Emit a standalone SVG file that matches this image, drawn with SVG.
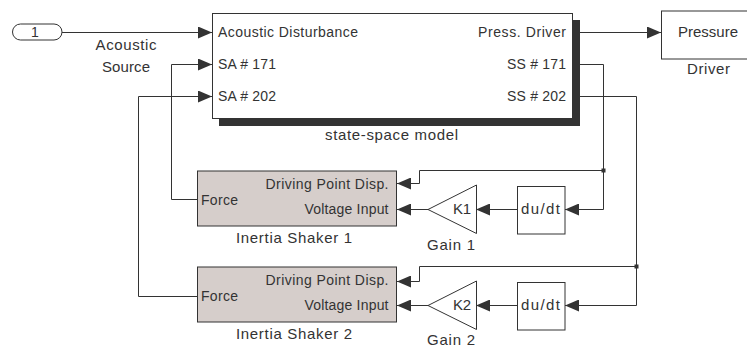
<svg xmlns="http://www.w3.org/2000/svg" width="747" height="348" viewBox="0 0 747 348">
<defs>
<style>
text{font-family:"Liberation Sans",Arial,sans-serif;font-size:14px;fill:#333;}
.lbl{font-size:15px;}
.blk{fill:#fff;stroke:#333;stroke-width:1;}
.shk{fill:#d6cecb;stroke:#333;stroke-width:1;}
.sh{fill:#333;}
.ln{fill:none;stroke:#333;stroke-width:1;}
.e{text-anchor:end;}
.m{text-anchor:middle;}
</style>
<marker id="ar" viewBox="0 0 14 12" refX="14" refY="6" markerUnits="userSpaceOnUse" markerWidth="14" markerHeight="12" orient="auto">
<path d="M0,0 L14,6 L0,12 z" fill="#333"/>
</marker>
</defs>
<rect width="747" height="348" fill="#fff"/>

<g id="connectors">
<path class="ln" d="M62,32.5 H212" marker-end="url(#ar)"/>
<path class="ln" d="M197,199.5 H171.5 V64.5 H212" marker-end="url(#ar)"/>
<path class="ln" d="M197,296.5 H138.5 V96.5 H212" marker-end="url(#ar)"/>
<path class="ln" d="M573,32.5 H661" marker-end="url(#ar)"/>
<path class="ln" d="M573,64.5 H603.5 V209.5 H565" marker-end="url(#ar)"/>
<path class="ln" d="M603.5,170.5 H419.5 V183.5 H397" marker-end="url(#ar)"/>
<path class="ln" d="M573,96.5 H636.5 V305.5 H565" marker-end="url(#ar)"/>
<path class="ln" d="M636.5,266.5 H419.5 V281.5 H397" marker-end="url(#ar)"/>
<path class="ln" d="M517,209.5 H476" marker-end="url(#ar)"/>
<path class="ln" d="M428,209.5 H397" marker-end="url(#ar)"/>
<path class="ln" d="M517,305.5 H476" marker-end="url(#ar)"/>
<path class="ln" d="M428,305.5 H397" marker-end="url(#ar)"/>
<rect x="601.5" y="168.5" width="4" height="4" fill="#333"/>
<rect x="634.5" y="264.5" width="4" height="4" fill="#333"/>
</g>

<g id="inport1">
<rect class="blk" x="12.5" y="24" width="49.5" height="16" rx="8"/>
<text x="35" y="37" class="m">1</text>
<text x="126" y="50" class="m lbl" textLength="61" lengthAdjust="spacing">Acoustic</text>
<text x="126" y="71.5" class="m lbl" textLength="48" lengthAdjust="spacing">Source</text>
</g>

<g id="statespace">
<rect class="sh" x="219" y="20" width="361" height="106"/>
<rect class="blk" x="212.5" y="13.5" width="360" height="105"/>
<text x="218" y="36.5" textLength="140" lengthAdjust="spacing">Acoustic Disturbance</text>
<text x="218" y="68.5" textLength="58" lengthAdjust="spacing">SA # 171</text>
<text x="218" y="100.5" textLength="58" lengthAdjust="spacing">SA # 202</text>
<text x="566" y="36.5" class="e" textLength="88" lengthAdjust="spacing">Press. Driver</text>
<text x="566" y="68.5" class="e" textLength="59" lengthAdjust="spacing">SS # 171</text>
<text x="566" y="100.5" class="e" textLength="59" lengthAdjust="spacing">SS # 202</text>
<text x="391.5" y="140" class="m lbl" textLength="133" lengthAdjust="spacing">state-space model</text>
</g>

<g id="pressure">
<rect class="blk" x="661.5" y="11" width="100" height="48"/>
<text x="708" y="36.5" class="m lbl" textLength="60" lengthAdjust="spacing">Pressure</text>
<text x="708.5" y="74" class="m lbl" textLength="43" lengthAdjust="spacing">Driver</text>
</g>

<g id="shaker1">
<rect class="shk" x="197.5" y="171" width="199" height="55"/>
<text x="388.5" y="188.5" class="e" textLength="123" lengthAdjust="spacing">Driving Point Disp.</text>
<text x="388.5" y="213.5" class="e" textLength="84" lengthAdjust="spacing">Voltage Input</text>
<text x="201" y="204.5" textLength="37" lengthAdjust="spacing">Force</text>
<text x="294" y="242.5" class="m lbl" textLength="116" lengthAdjust="spacing">Inertia Shaker 1</text>
</g>

<g id="gain1">
<polygon class="blk" points="428,209.5 476.5,185 476.5,233.5"/>
<text x="453" y="214" class="lbl" textLength="18" lengthAdjust="spacing">K1</text>
<text x="451" y="250" class="m lbl" textLength="48" lengthAdjust="spacing">Gain 1</text>
</g>

<g id="dudt1">
<rect class="blk" x="517.5" y="186.5" width="47.5" height="47.5"/>
<text x="540.5" y="214" class="m lbl" textLength="39" lengthAdjust="spacing">du/dt</text>
</g>

<g id="shaker2">
<rect class="shk" x="197.5" y="267" width="199" height="55"/>
<text x="388.5" y="285" class="e" textLength="123" lengthAdjust="spacing">Driving Point Disp.</text>
<text x="388.5" y="309.5" class="e" textLength="84" lengthAdjust="spacing">Voltage Input</text>
<text x="201" y="300.5" textLength="37" lengthAdjust="spacing">Force</text>
<text x="294" y="339" class="m lbl" textLength="116" lengthAdjust="spacing">Inertia Shaker 2</text>
</g>

<g id="gain2">
<polygon class="blk" points="428,305.5 476.5,281 476.5,329.5"/>
<text x="453" y="310" class="lbl" textLength="18" lengthAdjust="spacing">K2</text>
<text x="451" y="345" class="m lbl" textLength="48" lengthAdjust="spacing">Gain 2</text>
</g>

<g id="dudt2">
<rect class="blk" x="517.5" y="282.5" width="47.5" height="47.5"/>
<text x="540.5" y="310" class="m lbl" textLength="39" lengthAdjust="spacing">du/dt</text>
</g>
</svg>
